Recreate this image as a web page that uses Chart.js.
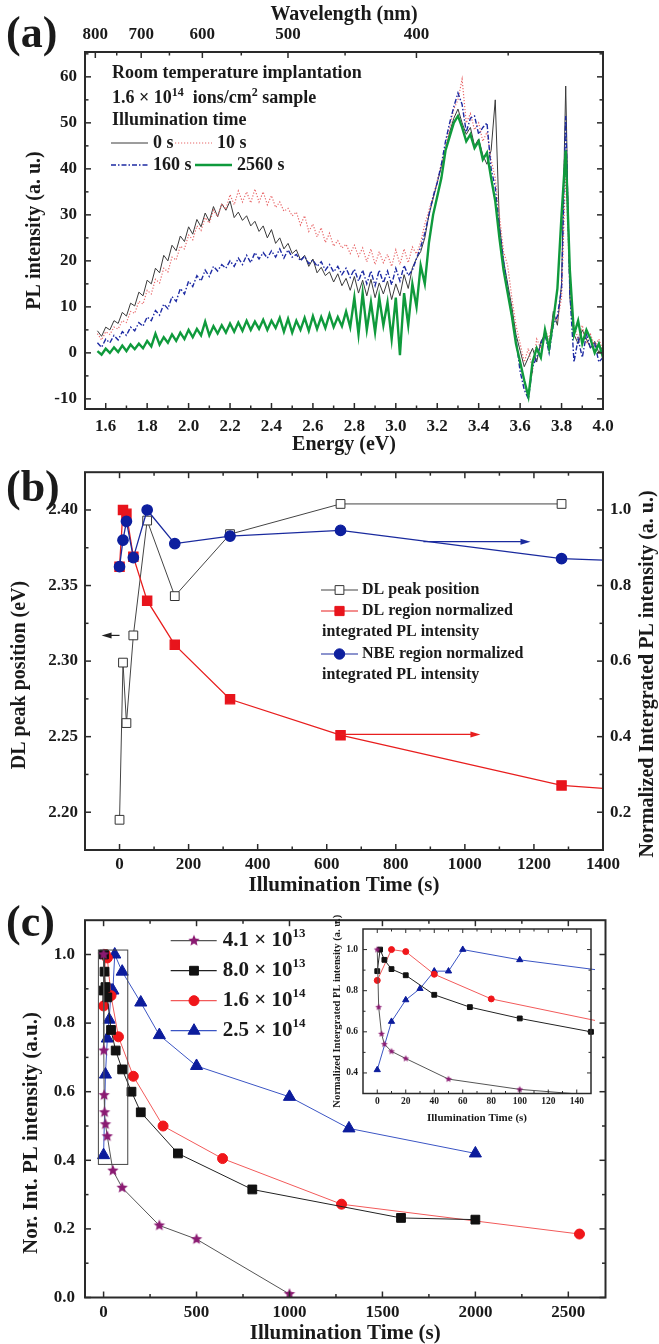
<!DOCTYPE html>
<html>
<head>
<meta charset="utf-8">
<title>PL spectra and illumination time</title>
<script src="https://cdn.jsdelivr.net/npm/chart.js@4.4.1/dist/chart.umd.min.js"></script>
<style>
  body { margin: 0; background: #fff; }
  #page { position: relative; width: 659px; height: 1344px; overflow: hidden; background: #fff; }
  #page canvas { position: absolute; }
</style>
</head>
<body>
<div id="page">
  <canvas id="chartA" width="659" height="460" style="left:0;top:0"></canvas>
  <canvas id="chartB" width="659" height="450" style="left:0;top:455px"></canvas>
  <canvas id="chartC" width="659" height="444" style="left:0;top:900px"></canvas>
  <canvas id="chartInset" width="280" height="225" style="left:325px;top:910px"></canvas>
</div>
<script>
console.log("charts running")

// ---------- (a) PL spectra ----------
const energy = [
  1.56, 1.58, 1.60, 1.62, 1.64, 1.66, 1.68, 1.70, 1.72, 1.74,
  1.76, 1.78, 1.80, 1.82, 1.84, 1.86, 1.88, 1.90, 1.92, 1.94,
  1.96, 1.98, 2.00, 2.02, 2.04, 2.06, 2.08, 2.10, 2.12, 2.14,
  2.16, 2.18, 2.20, 2.22, 2.24, 2.26, 2.28, 2.30, 2.32, 2.34,
  2.36, 2.38, 2.40, 2.42, 2.44, 2.46, 2.48, 2.50, 2.52, 2.54,
  2.56, 2.58, 2.60, 2.62, 2.64, 2.66, 2.68, 2.70, 2.72, 2.74,
  2.76, 2.78, 2.80, 2.82, 2.84, 2.86, 2.88, 2.90, 2.92, 2.94,
  2.96, 2.98, 3.00, 3.02, 3.04, 3.06, 3.08, 3.10, 3.12, 3.14,
  3.16, 3.18, 3.20, 3.22, 3.24, 3.26, 3.28, 3.30, 3.32, 3.34,
  3.36, 3.38, 3.40, 3.42, 3.44, 3.46, 3.48, 3.50, 3.52, 3.54,
  3.56, 3.58, 3.60, 3.62, 3.64, 3.66, 3.68, 3.70, 3.72, 3.74,
  3.76, 3.78, 3.80, 3.82, 3.84, 3.86, 3.88, 3.90, 3.92, 3.94,
  3.96, 3.98, 4.00
];
const pl0s = [
  4.8, 3.6, 5.6, 5.0, 7.0, 6.4, 8.8, 8.0, 10.8, 10.2,
  13.2, 12.4, 15.8, 15.0, 18.4, 17.4, 21.2, 20.0, 23.4, 22.2,
  25.4, 24.2, 27.4, 25.8, 29.0, 27.4, 30.4, 28.6, 31.8, 29.6,
  32.4, 31.0, 33.0, 29.4, 30.6, 28.8, 29.8, 27.6, 28.6, 26.4,
  27.6, 25.0, 26.8, 23.8, 25.0, 22.6, 23.8, 21.6, 22.4, 20.2,
  21.2, 18.8, 20.4, 17.4, 18.6, 16.8, 17.6, 15.4, 17.2, 14.6,
  16.2, 13.6, 16.6, 13.0, 15.8, 12.4, 16.0, 12.0, 15.2, 12.8,
  15.6, 11.6, 15.0, 12.4, 17.0, 14.0, 18.5, 20.5, 22.0, 25.0,
  30.0, 33.5, 37.0, 40.5, 44.0, 48.0, 51.0, 53.0, 50.0, 47.5,
  49.0, 45.0, 46.5, 43.0, 41.0, 44.0, 55.0, 28.0, 20.0, 15.0,
  10.0, 4.0, 0.5, -3.0, -1.0, 1.0, -2.0, 2.5, 4.0, 1.5,
  9.0, 6.0, 15.0, 58.0, 12.0, 4.0, 2.0, 5.0, 3.0, 1.0,
  2.5, 0.0, 1.5
];
const pl10s = [
  4.2, 2.8, 4.6, 4.0, 5.6, 5.2, 7.0, 6.6, 9.0, 8.6,
  11.2, 10.6, 13.6, 12.8, 16.0, 15.2, 18.4, 17.6, 20.8, 20.2,
  23.2, 22.6, 25.6, 24.6, 27.6, 26.6, 29.4, 28.2, 31.0, 29.6,
  32.4, 31.2, 34.4, 32.2, 35.2, 32.8, 35.0, 32.6, 35.6, 32.8,
  35.0, 32.2, 34.2, 31.6, 32.8, 30.8, 31.4, 29.8, 30.6, 27.8,
  29.8, 26.4, 28.0, 25.2, 27.2, 24.0, 26.0, 23.2, 24.4, 22.8,
  23.6, 21.6, 23.4, 21.0, 22.8, 19.8, 22.6, 19.2, 22.0, 19.6,
  21.4, 18.8, 22.4, 19.2, 22.6, 19.6, 23.0, 21.5, 24.0, 28.0,
  31.0, 34.0, 37.5, 41.0, 45.0, 49.0, 53.0, 55.0, 59.5, 50.0,
  52.0, 48.5, 50.0, 46.0, 48.0, 42.0, 38.0, 30.0, 22.0, 19.0,
  12.0, 6.0, 2.0, -2.0, 1.0, -4.0, 3.0, 1.0, 5.0, 3.0,
  8.0, 7.0, 12.0, 40.0, 14.0, 6.0, 3.0, 6.0, 2.0, 4.0,
  1.5, 3.0, 0.5
];
const pl160s = [
  2.2, 1.2, 3.0, 2.2, 3.8, 2.8, 4.6, 3.8, 5.6, 4.8,
  6.6, 5.8, 7.8, 7.0, 9.2, 8.2, 10.6, 9.6, 12.2, 11.2,
  14.0, 12.8, 15.6, 14.4, 16.8, 15.6, 18.0, 16.6, 18.8, 17.8,
  19.2, 18.4, 20.0, 18.8, 20.6, 19.2, 21.2, 19.6, 21.8, 20.4,
  21.8, 20.6, 22.2, 20.8, 22.6, 20.6, 22.4, 20.8, 21.4, 20.0,
  21.0, 19.4, 20.2, 18.8, 19.8, 18.0, 19.2, 17.6, 18.8, 17.0,
  18.4, 16.4, 18.2, 15.6, 18.0, 15.0, 17.8, 14.6, 18.0, 15.2,
  17.8, 14.8, 18.4, 15.6, 19.0, 16.8, 18.0, 20.5, 23.0, 26.0,
  30.0, 34.0, 37.0, 41.0, 46.0, 50.0, 53.5, 56.5, 54.0, 48.0,
  51.0, 51.5, 47.5, 49.0, 50.0, 40.0, 36.0, 27.0, 20.0, 14.0,
  8.0, 3.0, -4.0, -8.0, -10.0, -3.0, -1.0, 2.0, 4.0, 0.0,
  6.0, 8.0, 14.0, 51.5, 13.0, -2.0, 3.0, -1.0, 4.0, 1.0,
  2.0, -2.0, -1.0
];
const pl2560s = [
  0.4, -0.4, 0.9, 0.0, 1.2, 0.2, 1.6, 0.4, 1.8, 0.8,
  2.0, 1.0, 2.6, 1.4, 4.2, 1.8, 3.4, 2.2, 4.0, 2.6,
  4.4, 3.0, 5.0, 3.4, 5.2, 3.8, 6.8, 3.8, 5.8, 4.2,
  6.0, 4.4, 6.4, 4.6, 6.6, 4.8, 7.0, 5.0, 6.8, 5.2,
  7.2, 5.0, 7.0, 5.4, 7.6, 4.6, 7.4, 4.4, 7.0, 5.0,
  7.6, 4.8, 8.0, 5.2, 7.8, 5.4, 8.4, 5.6, 7.8, 5.8,
  9.0, 5.6, 12.0, 4.0, 13.0, 5.0, 11.0, 4.5, 12.0, 6.0,
  11.0, 3.0, 12.0, -0.5, 13.0, 6.0, 15.0, 10.0, 19.0, 15.0,
  24.0, 30.0, 34.0, 38.0, 44.0, 47.0, 50.0, 51.5, 49.0, 46.0,
  47.5, 44.5, 46.0, 42.0, 43.5, 38.0, 33.0, 25.0, 18.0, 13.0,
  8.0, 2.0, -2.0, -6.0, -9.5, -2.0, 1.0, -1.0, 5.0, 1.0,
  7.0, 14.0, 30.0, 44.0, 18.0, 4.0, 7.0, 2.0, 5.0, 3.0,
  0.0, 2.0, -1.0
];
const illumLabels = ['0 s', '10 s', '160 s', '2560 s'];
const energyTicks = [1.6, 1.8, 2.0, 2.2, 2.4, 2.6, 2.8, 3.0, 3.2, 3.4, 3.6, 3.8, 4.0];
const energyMinor = [1.7, 1.9, 2.1, 2.3, 2.5, 2.7, 2.9, 3.1, 3.3, 3.5, 3.7, 3.9];
const wavelengthTicks = [800, 700, 600, 500, 400];
const wavelengthMinor = [750, 650, 550, 450, 350];
const plTicks = [-10, 0, 10, 20, 30, 40, 50, 60];
const plMinor = [-5, 5, 15, 25, 35, 45, 55, 65];

// ---------- (b) peak position and integrated intensity ----------
const timeB = [0, 10, 20, 40, 80, 160, 320, 640, 1280, 2560];
const dlPeak = [2.195, 2.299, 2.259, 2.317, 2.393, 2.343, 2.384, 2.404, 2.404];
const dlRegion = [0.85, 1.0, 0.99, 0.876, 0.76, 0.643, 0.499, 0.404, 0.271, 0.185];
const nbeRegion = [0.85, 0.92, 0.97, 0.874, 1.0, 0.911, 0.931, 0.946, 0.871, 0.83];
const timeTicksB = [0, 200, 400, 600, 800, 1000, 1200, 1400];
const timeMinorB = [100, 300, 500, 700, 900, 1100, 1300];
const peakTicks = [2.20, 2.25, 2.30, 2.35, 2.40];
const peakMinor = [2.225, 2.275, 2.325, 2.375];
const normTicks = [0.2, 0.4, 0.6, 0.8, 1.0];
const normMinor = [0.3, 0.5, 0.7, 0.9];

// ---------- (c) normalized intensity for four doses ----------
const doseLabels = [['4.1', '13'], ['8.0', '13'], ['1.6', '14'], ['2.5', '14']];
const t41 = [0, 1, 3, 5, 10, 20, 50, 100, 300, 500, 1000];
const v41 = [1.0, 0.72, 0.59, 0.54, 0.505, 0.47, 0.37, 0.32, 0.21, 0.17, 0.01];
const t80 = [0, 2, 5, 10, 20, 40, 65, 100, 150, 200, 400, 800, 1600, 2000];
const v80 = [0.895, 1.0, 0.95, 0.905, 0.875, 0.78, 0.72, 0.665, 0.60, 0.54, 0.42, 0.315, 0.232, 0.227];
const t16 = [0, 10, 20, 40, 80, 160, 320, 640, 1280, 2560];
const v16 = [0.85, 1.0, 0.99, 0.88, 0.76, 0.645, 0.50, 0.405, 0.272, 0.185];
const t25 = [0, 10, 20, 30, 40, 50, 60, 100, 200, 300, 500, 1000, 1320, 2000];
const v25 = [0.415, 0.65, 0.755, 0.81, 0.895, 0.895, 1.0, 0.95, 0.86, 0.765, 0.675, 0.585, 0.493, 0.42];
const timeTicksC = [0, 500, 1000, 1500, 2000, 2500];
const timeMinorC = [250, 750, 1250, 1750, 2250];
const norTicks = [0.0, 0.2, 0.4, 0.6, 0.8, 1.0];
const norMinor = [0.1, 0.3, 0.5, 0.7, 0.9];
const insetTicks = [0, 20, 40, 60, 80, 100, 120, 140];
const insetMinor = [10, 30, 50, 70, 90, 110, 130];
const insetNorTicks = [0.4, 0.6, 0.8, 1.0];
const insetNorMinor = [0.5, 0.7, 0.9];

// ---------- helpers ----------
const SERIF = '"Liberation Serif", "Times New Roman", serif';
const INK = '#1a1a1a';
const hc = 1239.84;
const swap = v => hc / v; // nm <-> eV

Chart.defaults.font.family = SERIF;
Chart.defaults.font.weight = 'bold';
Chart.defaults.font.size = 17;
Chart.defaults.color = INK;

const pts = (xs, ys) => ys.map((y, i) => ({ x: xs[i], y: y }));

function axis(o) {
  const horizontal = o.pos === 'top' || o.pos === 'bottom';
  return {
    type: 'linear', position: o.pos, min: o.min, max: o.max,
    afterBuildTicks: s => { s.ticks = (o.ticks || []).map(v => ({ value: v })); },
    afterFit: s => { if (horizontal) s.height = o.size; else s.width = o.size; },
    grid: { display: false, drawTicks: false },
    border: { display: false },
    ticks: {
      display: !!o.ticks, padding: o.pad || 0, autoSkip: false, maxRotation: 0,
      callback: o.fmt || (v => v), font: { size: o.font || 17 }
    },
    title: o.title
      ? { display: true, text: o.title, font: { size: o.titleSize || 20, lineHeight: o.lh || 1.2 }, padding: o.titlePad }
      : { display: false }
  };
}

// box round the plot, with inward tick marks
function frame(marks, o) {
  o = Object.assign({ width: 2, major: 6, minor: 3.5, tick: 1.5 }, o || {});
  return {
    id: 'frame',
    afterDatasetsDraw(chart) {
      const { ctx, chartArea: a, scales } = chart;
      ctx.save();
      ctx.strokeStyle = '#2a2a2a';
      ctx.lineWidth = o.tick;
      marks.forEach(([id, side, major, minor]) => {
        const s = scales[id];
        [[major, o.major], [minor, o.minor]].forEach(([vals, len]) => {
          vals.forEach(v => {
            const p = s.getPixelForValue(v);
            ctx.beginPath();
            if (side === 'bottom') { ctx.moveTo(p, a.bottom); ctx.lineTo(p, a.bottom - len); }
            if (side === 'top') { ctx.moveTo(p, a.top); ctx.lineTo(p, a.top + len); }
            if (side === 'left') { ctx.moveTo(a.left, p); ctx.lineTo(a.left + len, p); }
            if (side === 'right') { ctx.moveTo(a.right, p); ctx.lineTo(a.right - len, p); }
            ctx.stroke();
          });
        });
      });
      ctx.lineWidth = o.width;
      ctx.strokeRect(a.left, a.top, a.right - a.left, a.bottom - a.top);
      ctx.restore();
    }
  };
}

function rich(ctx, x, y, parts) {
  parts.forEach(([t, size, dy]) => {
    ctx.font = 'bold ' + size + 'px ' + SERIF;
    ctx.fillText(t, x, y + dy);
    x += ctx.measureText(t).width;
  });
}

function lineSample(ctx, x0, x1, y, color, width, dash) {
  ctx.save();
  ctx.strokeStyle = color;
  ctx.lineWidth = width;
  ctx.setLineDash(dash || []);
  ctx.beginPath(); ctx.moveTo(x0, y); ctx.lineTo(x1, y); ctx.stroke();
  ctx.restore();
}

function marker(ctx, style, x, y, r, fill, stroke) {
  if (style instanceof HTMLCanvasElement) {
    ctx.drawImage(style, x - style.width / 2, y - style.height / 2);
    return;
  }
  ctx.save();
  ctx.fillStyle = fill; ctx.strokeStyle = stroke; ctx.lineWidth = 1;
  ctx.beginPath();
  if (style === 'rect') {
    const h = r * Math.SQRT1_2;
    ctx.rect(x - h, y - h, 2 * h, 2 * h);
  } else if (style === 'triangle') {
    for (let k = 0; k < 3; k++) {
      const a = k * 2 * Math.PI / 3;
      ctx.lineTo(x + Math.sin(a) * r, y - Math.cos(a) * r);
    }
    ctx.closePath();
  } else {
    ctx.arc(x, y, r, 0, 2 * Math.PI);
  }
  ctx.fill(); ctx.stroke();
  ctx.restore();
}

function arrow(ctx, x0, y, x1, color) {
  const dir = Math.sign(x1 - x0);
  ctx.save();
  ctx.strokeStyle = color; ctx.fillStyle = color; ctx.lineWidth = 1.2;
  ctx.beginPath(); ctx.moveTo(x0, y); ctx.lineTo(x1 - dir * 8, y); ctx.stroke();
  ctx.beginPath(); ctx.moveTo(x1, y); ctx.lineTo(x1 - dir * 10, y - 3); ctx.lineTo(x1 - dir * 10, y + 3);
  ctx.closePath(); ctx.fill();
  ctx.restore();
}

function vText(ctx, text, x, y, size) {
  ctx.save();
  ctx.translate(x, y); ctx.rotate(-Math.PI / 2);
  ctx.font = 'bold ' + size + 'px ' + SERIF;
  ctx.textAlign = 'center'; ctx.textBaseline = 'middle'; ctx.fillStyle = INK;
  ctx.fillText(text, 0, 0);
  ctx.restore();
}

function starImage(r, color) {
  const c = document.createElement('canvas');
  c.width = c.height = Math.ceil(2 * r + 2);
  const g = c.getContext('2d');
  const m = c.width / 2;
  g.fillStyle = color;
  g.beginPath();
  for (let i = 0; i < 10; i++) {
    const a = -Math.PI / 2 + i * Math.PI / 5;
    const rr = i % 2 ? r * 0.45 : r;
    g.lineTo(m + rr * Math.cos(a), m + rr * Math.sin(a));
  }
  g.closePath(); g.fill();
  return c;
}

const common = {
  responsive: false, animation: false, events: [],
  plugins: { legend: { display: false }, tooltip: { enabled: false } }
};

// ---------- chart (a) ----------
const decorA = {
  id: 'decorA',
  afterDraw(chart) {
    const ctx = chart.ctx;
    const ds = chart.data.datasets;
    ctx.save();
    ctx.fillStyle = INK; ctx.textBaseline = 'middle'; ctx.textAlign = 'left';
    ctx.font = 'bold 44px ' + SERIF;
    ctx.fillText('(a)', 6, 36);
    ctx.font = 'bold 18px ' + SERIF;
    ctx.fillText('Room temperature implantation', 112, 73);
    rich(ctx, 112, 98, [['1.6 × 10', 18, 0], ['14', 12, -5], ['  ions/cm', 18, 0], ['2', 12, -5], [' sample', 18, 0]]);
    ctx.font = 'bold 18px ' + SERIF;
    ctx.fillText('Illumination time', 112, 120);
    const entry = (d, x0, y, label) => {
      lineSample(ctx, x0, x0 + 37, y, d.borderColor, d.borderWidth, d.borderDash);
      ctx.font = 'bold 18px ' + SERIF;
      ctx.fillText(label, x0 + 42, y);
    };
    entry(ds[3], 111, 143, illumLabels[0]);
    entry(ds[2], 175, 143, illumLabels[1]);
    entry(ds[1], 111, 165, illumLabels[2]);
    entry(ds[0], 195, 165, illumLabels[3]);
    ctx.restore();
  }
};

new Chart(document.getElementById('chartA'), {
  type: 'scatter',
  data: {
    datasets: [
      { label: illumLabels[3], data: pts(energy, pl2560s), borderColor: '#0f9a3c', borderWidth: 2.4, order: 0 },
      { label: illumLabels[2], data: pts(energy, pl160s), borderColor: '#1d2aa3', borderWidth: 1.4, borderDash: [5, 2, 1.5, 2], order: 1 },
      { label: illumLabels[1], data: pts(energy, pl10s), borderColor: '#e8686a', borderWidth: 1.2, borderDash: [1.2, 1.8], order: 2 },
      { label: illumLabels[0], data: pts(energy, pl0s), borderColor: '#3a3a3a', borderWidth: 1, order: 3 }
    ].map(d => Object.assign({ showLine: true, pointRadius: 0, tension: 0 }, d))
  },
  options: Object.assign({}, common, {
    scales: {
      x: axis({ pos: 'bottom', min: 1.5, max: 4.0, ticks: energyTicks, size: 51, pad: 7, fmt: v => v.toFixed(1),
        title: 'Energy (eV)', titlePad: { top: 0, bottom: 3 } }),
      xTop: axis({ pos: 'top', min: 1.5, max: 4.0, ticks: wavelengthTicks.map(swap), size: 52, pad: 7,
        fmt: v => Math.round(swap(v)), title: 'Wavelength (nm)', titlePad: { top: 3, bottom: 0 } }),
      y: axis({ pos: 'left', min: -12.2, max: 65.4, ticks: plTicks, size: 85, pad: 8,
        title: 'PL intensity (a. u.)', titlePad: { top: 23, bottom: 0 } }),
      yRight: axis({ pos: 'right', min: -12.2, max: 65.4, size: 56 })
    }
  }),
  plugins: [frame([
    ['x', 'bottom', energyTicks, energyMinor],
    ['xTop', 'top', wavelengthTicks.map(swap), wavelengthMinor.map(swap)],
    ['y', 'left', plTicks, plMinor],
    ['y', 'right', plTicks, plMinor]
  ]), decorA]
});

// ---------- chart (b) ----------
const offB = 455;
const arrowsB = [
  { axis: 'y', y: 2.317, from: 0, to: -52, color: '#222' },
  { axis: 'y2', y: 0.916, from: 880, to: 1190, color: '#1a2a9e' },
  { axis: 'y2', y: 0.406, from: 640, to: 1045, color: '#e81e1e' }
];
const decorB = {
  id: 'decorB',
  afterDraw(chart) {
    const ctx = chart.ctx;
    const s = chart.scales;
    ctx.save();
    arrowsB.forEach(a => arrow(ctx, s.x.getPixelForValue(a.from), s[a.axis].getPixelForValue(a.y), s.x.getPixelForValue(a.to), a.color));
    ctx.fillStyle = INK; ctx.textBaseline = 'middle'; ctx.textAlign = 'left';
    ctx.font = 'bold 44px ' + SERIF;
    ctx.fillText('(b)', 6, 490 - offB);
    vText(ctx, 'DL peak position (eV)', 20, 675 - offB, 20);
    vText(ctx, 'Normalized Intergrated PL intensity (a. u.)', 648, 674 - offB, 20);
    const ds = chart.data.datasets;
    const rows = [
      [ds[2], 'DL peak position', 590],
      [ds[1], 'DL region normalized', 611],
      [ds[0], 'NBE region normalized', 654]
    ];
    rows.forEach(([d, label, y]) => {
      lineSample(ctx, 321, 358, y - offB, d.borderColor, 1.2);
      marker(ctx, d.pointStyle, 339.5, y - offB, d.pointRadius, d.pointBackgroundColor, d.pointBorderColor);
      ctx.font = 'bold 16px ' + SERIF; ctx.fillStyle = INK;
      ctx.fillText(label, 362, y - offB);
    });
    ctx.fillText('integrated PL intensity', 322, 632 - offB);
    ctx.fillText('integrated PL intensity', 322, 675 - offB);
    ctx.restore();
  }
};

new Chart(document.getElementById('chartB'), {
  type: 'scatter',
  data: {
    datasets: [
      { label: 'NBE region normalized integrated PL intensity', data: pts(timeB, nbeRegion), yAxisID: 'y2',
        borderColor: '#1a2a9e', borderWidth: 1.3, pointStyle: 'circle', pointRadius: 5.2,
        pointBackgroundColor: '#0d1f9e', pointBorderColor: '#0d1f9e', order: 0 },
      { label: 'DL region normalized integrated PL intensity', data: pts(timeB, dlRegion), yAxisID: 'y2',
        borderColor: '#e81e1e', borderWidth: 1.3, pointStyle: 'rect', pointRadius: 6.5,
        pointBackgroundColor: '#e8141c', pointBorderColor: '#e8141c', order: 1 },
      { label: 'DL peak position', data: pts(timeB, dlPeak), yAxisID: 'y',
        borderColor: '#444', borderWidth: 1, pointStyle: 'rect', pointRadius: 6.2,
        pointBackgroundColor: '#fff', pointBorderColor: '#333', pointBorderWidth: 1, order: 2 }
    ].map(d => Object.assign({ showLine: true, tension: 0, clip: 0 }, d))
  },
  options: Object.assign({}, common, {
    scales: {
      x: axis({ pos: 'bottom', min: -100, max: 1400, ticks: timeTicksB, size: 55, pad: 4,
        title: 'Illumination Time (s)', titleSize: 21, titlePad: { top: 0, bottom: 6.4 } }),
      xTop: axis({ pos: 'top', min: -100, max: 1400, size: 17 }),
      y: axis({ pos: 'left', min: 2.175, max: 2.425, ticks: peakTicks, size: 85, pad: 7, fmt: v => v.toFixed(2) }),
      y2: axis({ pos: 'right', min: 0.1, max: 1.1, ticks: normTicks, size: 56, pad: 7, fmt: v => v.toFixed(1) })
    }
  }),
  plugins: [frame([
    ['x', 'bottom', timeTicksB, timeMinorB],
    ['x', 'top', timeTicksB, timeMinorB],
    ['y', 'left', peakTicks, peakMinor],
    ['y2', 'right', normTicks, normMinor]
  ]), decorB]
});

// ---------- chart (c) ----------
const offC = 900;
const starBig = starImage(6, '#8b1a72');
const starSmall = starImage(3.6, '#8b1a72');
const zoomBox = { x0: -28, x1: 130, y0: 0.388, y1: 1.013 };

const seriesC = [
  { data: pts(t41, v41), borderColor: '#555', pointStyle: starBig, pointRadius: 6, fill: '#8b1a72' },
  { data: pts(t80, v80), borderColor: '#222', pointStyle: 'rect', pointRadius: 6.2, fill: '#111' },
  { data: pts(t16, v16), borderColor: '#f25a5a', pointStyle: 'circle', pointRadius: 5, fill: '#f0161a' },
  { data: pts(t25, v25), borderColor: '#3b55c4', pointStyle: 'triangle', pointRadius: 7, fill: '#0c1c9c' }
];

const decorC = {
  id: 'decorC',
  afterDraw(chart) {
    const ctx = chart.ctx;
    const s = chart.scales;
    ctx.save();
    ctx.strokeStyle = '#444'; ctx.lineWidth = 1;
    const bx = s.x.getPixelForValue(zoomBox.x0), by = s.y.getPixelForValue(zoomBox.y1);
    ctx.strokeRect(bx, by, s.x.getPixelForValue(zoomBox.x1) - bx, s.y.getPixelForValue(zoomBox.y0) - by);
    ctx.fillStyle = INK; ctx.textBaseline = 'middle'; ctx.textAlign = 'left';
    ctx.font = 'bold 44px ' + SERIF;
    ctx.fillText('(c)', 6, 925 - offC);
    vText(ctx, 'Nor. Int. PL intensity (a.u.)', 32, 1133 - offC, 21);
    seriesC.forEach((d, i) => {
      const y = 940.7 + 30 * i - offC;
      lineSample(ctx, 170.7, 216.7, y, d.borderColor, 1.2);
      marker(ctx, d.pointStyle, 194, y, d.pointRadius, d.fill, d.fill);
      ctx.fillStyle = INK;
      rich(ctx, 222.7, y, [[doseLabels[i][0] + ' × 10', 21, 0], [doseLabels[i][1], 13, -7]]);
    });
    ctx.restore();
  }
};

new Chart(document.getElementById('chartC'), {
  type: 'scatter',
  data: {
    datasets: seriesC.map((d, i) => ({
      label: doseLabels[i].join('e'), data: d.data, showLine: true, tension: 0,
      borderColor: d.borderColor, borderWidth: 1, pointStyle: d.pointStyle, pointRadius: d.pointRadius,
      pointBackgroundColor: d.fill, pointBorderColor: d.fill, order: i
    }))
  },
  options: Object.assign({}, common, {
    scales: {
      x: axis({ pos: 'bottom', min: -100, max: 2700, ticks: timeTicksC, size: 46.5, pad: 5.3,
        title: 'Illumination Time (s)', titleSize: 21, lh: 1, titlePad: { top: 0, bottom: 0 } }),
      xTop: axis({ pos: 'top', min: -100, max: 2700, size: 16.7 }),
      y: axis({ pos: 'left', min: 0, max: 1.1, ticks: norTicks, size: 85, pad: 10, fmt: v => v.toFixed(1) }),
      yRight: axis({ pos: 'right', min: 0, max: 1.1, size: 53.5 })
    }
  }),
  plugins: [frame([
    ['x', 'bottom', timeTicksC, timeMinorC],
    ['x', 'top', timeTicksC, timeMinorC],
    ['y', 'left', norTicks, norMinor],
    ['y', 'right', norTicks, norMinor]
  ]), decorC]
});

// ---------- inset of (c): first 150 s ----------
new Chart(document.getElementById('chartInset'), {
  type: 'scatter',
  data: {
    datasets: seriesC.map((d, i) => ({
      label: doseLabels[i].join('e'), data: d.data, showLine: true, tension: 0,
      borderColor: d.borderColor, borderWidth: 1,
      pointStyle: d.pointStyle === starBig ? starSmall : d.pointStyle,
      pointRadius: d.pointStyle === 'triangle' ? 3.6 : (d.pointStyle === 'rect' ? 3.4 : 3),
      pointBackgroundColor: d.fill, pointBorderColor: d.fill, order: i,
      clip: { left: 3, right: 4, top: 3, bottom: 0 }
    }))
  },
  options: Object.assign({}, common, {
    scales: {
      x: axis({ pos: 'bottom', min: -10, max: 150, ticks: insetTicks, size: 41.5, pad: 2.8, font: 9.5,
        title: 'Illumination Time (s)', titleSize: 11, titlePad: { top: 0, bottom: 10.4 } }),
      xTop: axis({ pos: 'top', min: -10, max: 150, size: 19 }),
      y: axis({ pos: 'left', min: 0.3, max: 1.1, ticks: insetNorTicks, size: 38, pad: 5, font: 9.5, fmt: v => v.toFixed(1),
        title: 'Normalized Intergrated PL intensity (a. u.)', titleSize: 10.5, titlePad: { top: 6.2, bottom: 0 } }),
      yRight: axis({ pos: 'right', min: 0.3, max: 1.1, size: 14 })
    }
  }),
  plugins: [frame([
    ['x', 'bottom', insetTicks, insetMinor],
    ['x', 'top', insetTicks, insetMinor],
    ['y', 'left', insetNorTicks, insetNorMinor],
    ['y', 'right', insetNorTicks, insetNorMinor]
  ], { width: 1.5, major: 4, minor: 2.5, tick: 1 })]
});
</script>
</body>
</html>
